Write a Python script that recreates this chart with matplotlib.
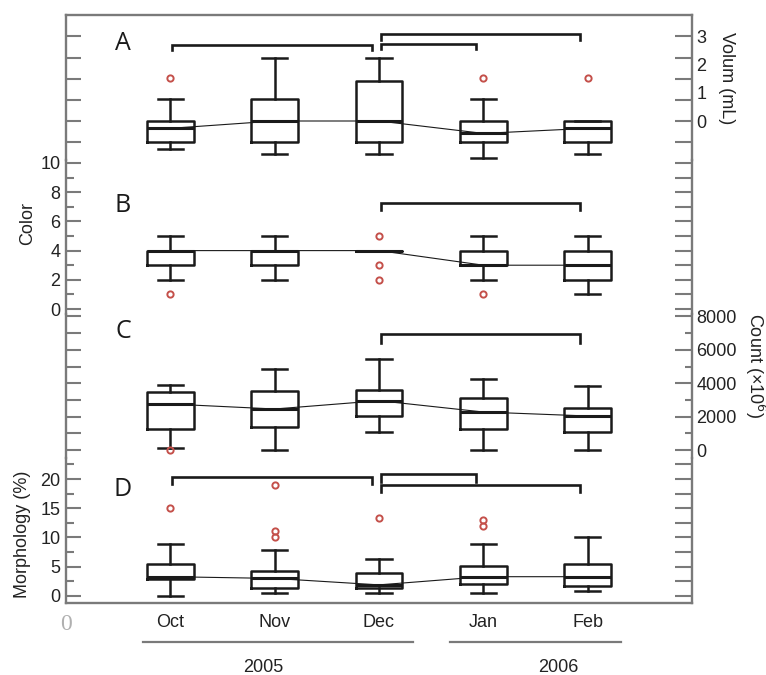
import matplotlib
matplotlib.use('Agg')
import matplotlib.pyplot as plt
from matplotlib.ticker import FixedLocator, NullFormatter

months = ['Oct', 'Nov', 'Dec', 'Jan', 'Feb']

# Volume (mL)
vol_q1 = [-0.75, -0.75, -0.75, -0.75, -0.75]
vol_med = [-0.26, 0.0, 0.0, -0.44, -0.26]
vol_q3 = [0.0, 0.77, 1.42, 0.0, 0.0]
vol_lo = [-1.0, -1.18, -1.18, -1.3, -1.18]
vol_hi = [0.77, 2.25, 2.25, 0.77, 0.0]
vol_out = [[1.51], [], [], [1.51], [1.51]]

# Color
color_q1 = [3, 3, 4, 3, 2]
color_med = [4, 4, 4, 3, 3]
color_q3 = [4, 4, 4, 4, 4]
color_lo = [2, 2, 4, 2, 1]
color_hi = [5, 5, 4, 5, 5]
color_out = [[1], [], [5, 3, 2], [1], []]

# Count (x10^6)
count_q1 = [1257, 1395, 2054, 1257, 1096]
count_med = [2754, 2455, 2952, 2275, 2036]
count_q3 = [3455, 3533, 3611, 3132, 2497]
count_lo = [100, 0, 1060, 0, 0]
count_hi = [3892, 4832, 5431, 4234, 3850]
count_out = [[0], [], [], [], []]

# Morphology (%)
morph_q1 = [2.85, 1.3, 1.3, 2.05, 1.77]
morph_med = [3.3, 3.0, 1.9, 3.3, 3.3]
morph_q3 = [5.47, 4.33, 3.87, 5.13, 5.47]
morph_lo = [0.0, 0.46, 0.46, 0.46, 0.9]
morph_hi = [8.9, 7.9, 6.3, 8.9, 10.0]
morph_out = [[15.0], [19.0, 11.1, 10.0], [13.4], [13.0, 12.0], []]

# significance brackets: (from month, to month, level)
vol_brackets = [(1, 3, 2.70), (3, 4, 2.73), (3, 5, 3.07)]
color_brackets = [(3, 5, 7.24)]
count_brackets = [(3, 5, 6946)]
morph_brackets = [(1, 3, 20.4), (3, 4, 20.85), (3, 5, 19.0)]

W, H = 766, 675
fig = plt.figure(figsize=(W / 100, H / 100), dpi=100)
plt.rcParams['font.family'] = ['Liberation Sans', 'DejaVu Sans']

frame = '#7a7a7a'
ink = '#1a1a1a'
red = '#c4504a'
fs = 13
edges = [15, 160, 314, 458, 603]
left, right = 66 / W, 692 / W
pos = [1, 2, 3, 4, 5]

panels = [
    (vol_q1, vol_med, vol_q3, vol_lo, vol_hi, vol_out, vol_brackets, (-1.383, 3.759), 0.18, 'A'),
    (color_q1, color_med, color_q3, color_lo, color_hi, color_out, color_brackets, (-0.342, 10.205), 0.45, 'B'),
    (count_q1, count_med, count_q3, count_lo, count_hi, count_out, count_brackets, (-479, 8144), 520, 'C'),
    (morph_q1, morph_med, morph_q3, morph_lo, morph_hi, morph_out, morph_brackets, (-1.197, 23.59), 1.3, 'D'),
]

axes = []
for k, (q1, med, q3, lo, hi, out, brk, ylim, leg, letter) in enumerate(panels):
    top, bot = edges[k], edges[k + 1]
    ax = fig.add_axes([left, 1 - bot / H, right - left, (bot - top) / H])
    ax.patch.set_alpha(0)
    stats = [dict(q1=q1[i], med=med[i], q3=q3[i], whislo=lo[i], whishi=hi[i], fliers=out[i])
             for i in range(5)]
    ax.bxp(stats, positions=pos, widths=0.45, capwidths=0.24, manage_ticks=False,
           boxprops=dict(color=ink, lw=1.8),
           whiskerprops=dict(color=ink, lw=1.8),
           capprops=dict(color=ink, lw=1.8),
           medianprops=dict(color=ink, lw=2.2),
           flierprops=dict(marker='o', markerfacecolor='none', markeredgecolor=red,
                           markersize=4.5, markeredgewidth=1.4))
    ax.plot(pos, med, color=ink, lw=0.8)
    for i, j, lev in brk:
        x0 = i + 0.02
        x1 = j - 0.07
        ax.plot([x0, x0, x1, x1], [lev - leg, lev, lev, lev - leg],
                color=ink, lw=1.9, solid_joinstyle='miter')
    ax.set_xlim(0, 6)
    ax.set_ylim(*ylim)
    for s in ax.spines.values():
        s.set_color(frame)
        s.set_linewidth(1.7)
    if k > 0:
        ax.spines['top'].set_visible(False)
    if k < 3:
        ax.spines['bottom'].set_visible(False)
    ax.tick_params(axis='x', length=0, labelbottom=False)
    ax.tick_params(axis='y', which='both', direction='in', color=frame, width=1.5,
                   labelsize=fs, pad=4, labelcolor='#222222')
    ax2 = ax.twinx()
    ax2.set_ylim(*ylim)
    ax2.patch.set_alpha(0)
    for s in ax2.spines.values():
        s.set_visible(False)
    ax2.tick_params(axis='y', which='both', direction='in', color=frame, width=1.5,
                    labelsize=fs, pad=3, labelcolor='#222222')
    ax2.yaxis.remove_overlapping_locs = False
    fig.text(123 / W, 1 - [44, 205, 331, 490][k] / H, letter, family='Open Sans',
             fontsize=18, ha='center', va='center', color=ink)
    axes.append((ax, ax2))

# A: volume
ax, ax2 = axes[0]
ax.set_yticks([-0.75, 0, 0.75, 1.5, 2.25, 3.0])
ax.yaxis.set_major_formatter(NullFormatter())
ax.tick_params(axis='y', length=10.8)
ax2.set_yticks([0, 1, 2, 3])
ax2.yaxis.set_minor_locator(FixedLocator([-0.75, 0, 0.75, 1.5, 2.25, 3.0]))
ax2.tick_params(axis='y', which='major', length=0)
ax2.tick_params(axis='y', which='minor', length=12)

# B: color
ax, ax2 = axes[1]
ax.set_yticks([0, 2, 4, 6, 8, 10])
ax.yaxis.set_minor_locator(FixedLocator([1, 3, 5, 7, 9]))
ax.tick_params(axis='y', which='major', length=10.8)
ax.tick_params(axis='y', which='minor', length=5.8)
ax2.set_yticks(range(0, 11))
ax2.yaxis.set_major_formatter(NullFormatter())
ax2.tick_params(axis='y', length=12)

# C: count
ax, ax2 = axes[2]
ax.set_yticks(range(0, 8001, 1000))
ax.yaxis.set_major_formatter(NullFormatter())
ax.tick_params(axis='y', length=10.8)
ax2.set_yticks(range(0, 8001, 2000))
ax2.yaxis.set_minor_locator(FixedLocator(range(1000, 8000, 2000)))
ax2.tick_params(axis='y', which='major', length=12)
ax2.tick_params(axis='y', which='minor', length=5)

# D: morphology
ax, ax2 = axes[3]
ax.set_yticks([0, 5, 10, 15, 20])
ax.yaxis.set_minor_locator(FixedLocator([2.5, 7.5, 12.5, 17.5, 22.5]))
ax.tick_params(axis='y', which='major', length=10.8)
ax.tick_params(axis='y', which='minor', length=5.8)
ax2.set_yticks([0, 2.5, 5, 7.5, 10, 12.5, 15, 17.5, 20, 22.5])
ax2.yaxis.set_major_formatter(NullFormatter())
ax2.tick_params(axis='y', length=12)

ax.set_xticks([0] + pos)
ax.set_xticklabels(['0'] + months)
ax.tick_params(axis='x', labelbottom=True, labelsize=fs, pad=8, labelcolor='#222222')
zero = ax.get_xticklabels()[0]
zero.set(color='#b0b0b0', fontsize=17, family='Liberation Serif')

# year groups
tr = ax.get_xaxis_transform()
ax.plot([0.74, 3.33], [-0.269, -0.269], color=frame, lw=1.6, transform=tr, clip_on=False)
ax.plot([3.68, 5.32], [-0.269, -0.269], color=frame, lw=1.6, transform=tr, clip_on=False)
ax.text(1.89, -0.448, '2005', transform=tr, ha='center', va='center', fontsize=fs, color='#222222')
ax.text(4.72, -0.448, '2006', transform=tr, ha='center', va='center', fontsize=fs, color='#222222')

# axis titles
fig.text(28 / W, 1 - 223 / H, 'Color', rotation=90, ha='center', va='center', fontsize=fs, color='#222222')
fig.text(23 / W, 1 - 534 / H, 'Morphology (%)', rotation=90, ha='center', va='center', fontsize=fs, color='#222222')
fig.text(727 / W, 1 - 78 / H, 'Volum (mL)', rotation=-90, ha='center', va='center', fontsize=fs, color='#222222')
fig.text(755 / W, 1 - 366 / H, 'Count (×10$^6$)', rotation=-90, ha='center', va='center', fontsize=fs, color='#222222')

fig.savefig('out.png', dpi=100)
